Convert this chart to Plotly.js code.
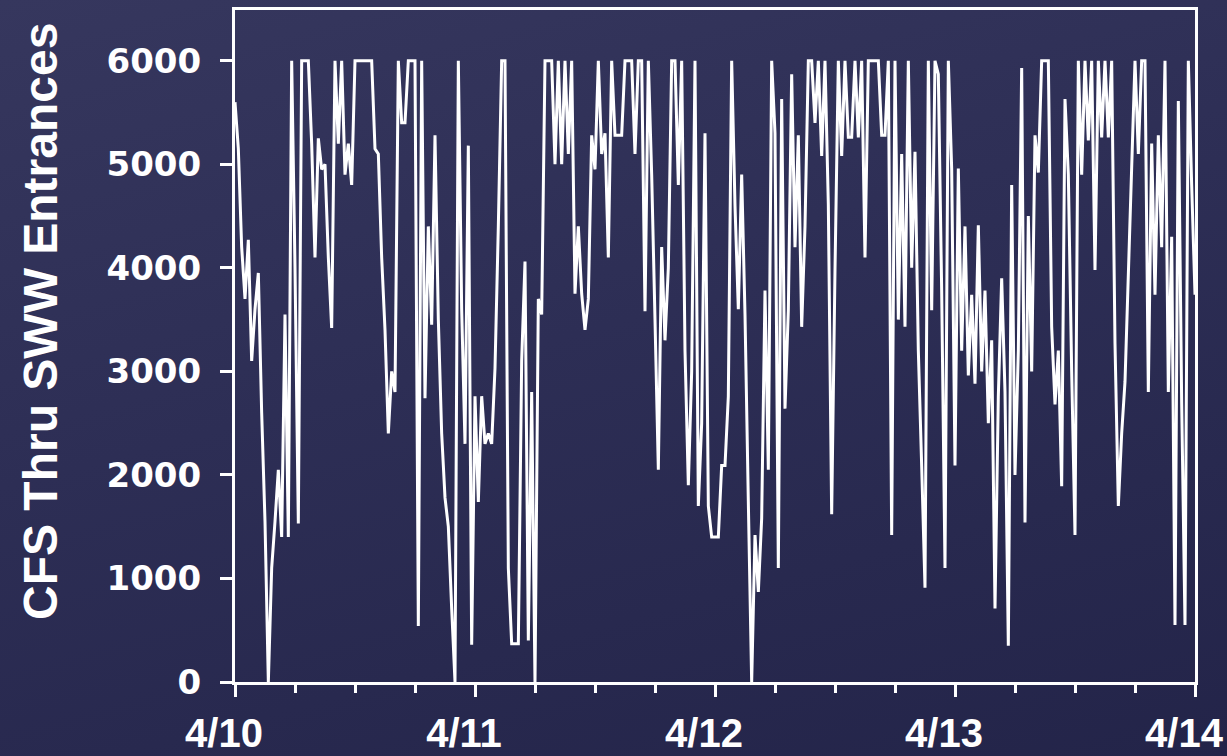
<!DOCTYPE html>
<html><head><meta charset="utf-8">
<script src="https://cdn.plot.ly/plotly-3.0.1.min.js"></script>
<style>
html,body{margin:0;padding:0;width:1227px;height:756px;overflow:hidden;
background: linear-gradient(165deg,#36375e 0%,#2d2e55 45%,#232449 100%);}
#chart{width:1227px;height:756px;}
</style></head><body><div id="chart"></div>
<script>
// Sampling grid: one reading every 20 minutes starting 4/10 00:00
const seriesStart = Date.UTC(2008, 3, 10);
const sampleMinutes = 20;

const day1Values = [5600,5150,4200,3700,4270,3100,3600,3950,2600,1550,0,1100,1550,2050,1400,3550,1400,6000,4000,1530,
6000,6000,6000,5200,4100,5250,4950,5000,4100,3420,6000,5200,6000,4900,5200,4800,6000,6000,6000,6000,
6000,6000,5150,5100,4100,3400,2400,3000,2800,6000,5400,5400,6000,6000,6000,540,6000,2740,4400,3450,
5280,3500,2400,1780,1500,710,0,6000,3600,2300,5180,360];

const day2Values = [2760,1740,2760,2300,2400,2300,3030,4400,6000,6000,1100,370,370,370,3100,4060,400,2800,0,3700,
3550,6000,6000,6000,5000,6000,5000,6000,5100,6000,3750,4400,3750,3400,3700,5280,4950,6000,5100,5300,
4100,6000,5280,5280,5280,6000,6000,6000,5100,6000,6000,3580,6000,4900,3500,2050,4200,3300,4000,6000,
6000,4800,6000,3200,1900,3000,6000,1700,2500,5300,1700,1400];

const day3Values = [1400,1400,2090,2090,2760,6000,4600,3600,4900,3550,1740,0,1420,870,1580,3780,2050,6000,5300,1100,
5630,2640,3590,5870,4200,5280,3430,4400,6000,6000,5400,6000,5080,6000,4610,1620,3980,6000,5080,6000,
5260,5260,6000,5260,6000,4100,6000,6000,6000,6000,5280,5280,6000,1420,6000,3500,5100,3430,6000,4000,
5120,3200,2090,910,6000,3590,6000,5870,3780,1100,6000,4960];

const day4Values = [2090,4960,3200,4400,2960,3740,2880,4410,3000,3780,2500,3300,710,2760,3900,2800,350,4800,2000,3200,
5930,1540,4500,3000,5280,4920,6000,6000,6000,3430,2680,3200,1890,5630,4900,3000,1420,6000,4900,6000,
5230,6000,3980,6000,5260,6000,5260,6000,3270,1700,2400,2900,4000,4920,6000,5100,6000,6000,2800,5200,
3740,5280,4200,6000,2800,4300,550,5610,2700,550,6000,4800,3740];

const dayTicks = ['2008-04-10','2008-04-11','2008-04-12','2008-04-13','2008-04-14'];
const dayLabels = ['4/10','4/11','4/12','4/13','4/14'];
const yTicks = [0,1000,2000,3000,4000,5000,6000];
const yTickLabels = ['0','1000','2000','3000','4000','5000','6000'];
const yTitle = 'CFS Thru SWW Entrances';

const cfs = day1Values.concat(day2Values, day3Values, day4Values);
const times = cfs.map((v, i) => new Date(seriesStart + i * sampleMinutes * 60000)
  .toISOString().slice(0, 19).replace('T', ' '));

const trace = {
  x: times, y: cfs, type: 'scatter', mode: 'lines',
  line: {color: '#ffffff', width: 3}, hoverinfo: 'skip'
};

const layout = {
  width: 1227, height: 756,
  margin: {l: 235, r: 32, t: 10, b: 74},
  paper_bgcolor: 'rgba(0,0,0,0)', plot_bgcolor: 'rgba(0,0,0,0)',
  showlegend: false,
  xaxis: {
    type: 'date', range: ['2008-04-10 00:00', '2008-04-14 00:00'],
    tickmode: 'array', tickvals: dayTicks, ticktext: dayLabels,
    ticks: 'outside', ticklen: 12, tickwidth: 3, tickcolor: '#ffffff',
    showline: true, linewidth: 3, linecolor: '#ffffff', mirror: true,
    showgrid: false, zeroline: false,
    ticklabelstandoff: 2, ticklabelshift: -11, ticklabeloverflow: 'allow',
    tickfont: {family: 'Liberation Sans, Arial, sans-serif', size: 40, color: '#ffffff', weight: 'bold'},
    minor: {dtick: 21600000, tick0: '2008-04-10', ticks: 'outside', ticklen: 8, tickwidth: 3,
            tickcolor: '#ffffff', showgrid: false}
  },
  yaxis: {
    range: [0, 6490],
    tickmode: 'array', tickvals: yTicks, ticktext: yTickLabels,
    ticks: 'outside', ticklen: 12, tickwidth: 3, tickcolor: '#ffffff',
    showline: true, linewidth: 3, linecolor: '#ffffff', mirror: true,
    showgrid: false, zeroline: false,
    ticklabelstandoff: 12,
    tickfont: {family: 'DejaVu Sans, sans-serif', size: 34, color: '#ffffff', weight: 'bold'}
  },
  annotations: [{
    text: yTitle, xref: 'paper', yref: 'paper',
    x: (40 - 235) / 960, y: (682 - 322) / 672,
    xanchor: 'center', yanchor: 'middle', textangle: -90, showarrow: false,
    font: {family: 'Liberation Sans, Arial, sans-serif', size: 48, color: '#ffffff', weight: 'bold'}
  }]
};

Plotly.newPlot('chart', [trace], layout, {displayModeBar: false, staticPlot: true});
</script>
</body></html>
